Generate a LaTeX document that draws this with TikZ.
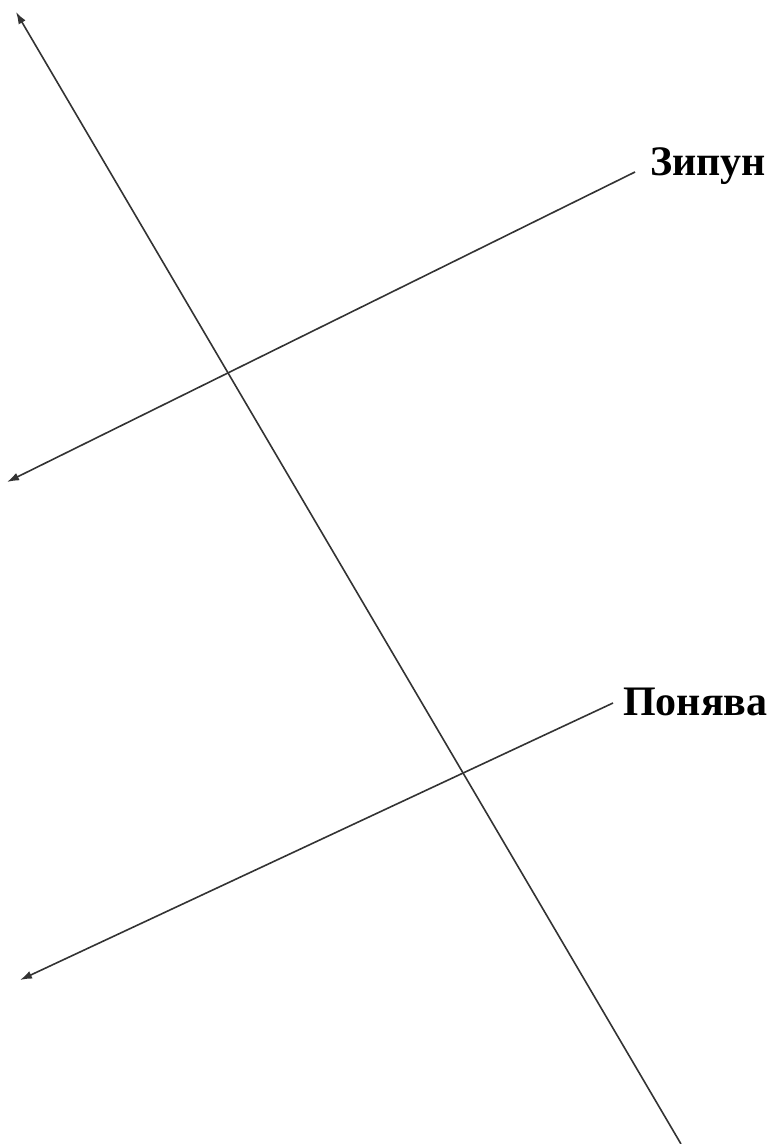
\documentclass[tikz,border=0pt]{standalone}
\usepackage{fontspec}
\setmainfont{Liberation Serif}
\usetikzlibrary{arrows.meta}
\begin{document}
\begin{tikzpicture}[x=1pt,y=-1pt,
  ln/.style={draw=black!80, line width=1.6pt},
  tipped/.style={-{Latex[length=12pt,width=8pt]}},
  lbl/.style={font=\bfseries\fontsize{42}{48}\selectfont, anchor=base west, inner sep=0pt}]
\useasboundingbox (0,0) rectangle (773,1144);
\coordinate (top) at (16,12);
\coordinate (bot) at (681,1144);
\coordinate (zr) at (635,172);
\coordinate (zl) at (7,482);
\coordinate (pr) at (613,703);
\coordinate (pl) at (20,980);
\node[lbl] (zipun) at (650,175) {Зипун};
\node[lbl] (ponyava) at (623,715) {Понява};
\draw[ln,tipped] (bot) -- (top);
\draw[ln,tipped] (zr) -- (zl);
\draw[ln,tipped] (pr) -- (pl);
\end{tikzpicture}
\end{document}
